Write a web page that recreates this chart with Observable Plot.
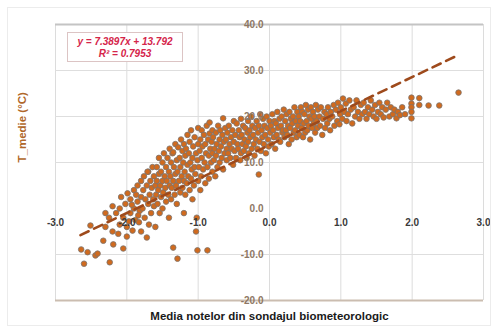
<!DOCTYPE html>
<html>
<head>
<meta charset="utf-8">
<script src="https://cdn.jsdelivr.net/npm/d3@7"></script>
<script src="https://cdn.jsdelivr.net/npm/@observablehq/plot@0.6"></script>
<style>
  html, body { margin: 0; padding: 0; background: #fff; }
  #wrap { position: relative; width: 498px; height: 333px; font-family: "Liberation Sans", Arial, sans-serif; }
  #border { position: absolute; left: 7px; top: 7px; width: 484px; height: 319px; border: 1px solid #ececec; box-sizing: border-box; }
  #eq { position: absolute; left: 67px; top: 32px; width: 116px; height: 30px; border: 1px solid #dcc4c4; box-sizing: border-box;
        color: #d5254a; font: italic bold 10px "Liberation Sans", Arial, sans-serif; text-align: center; line-height: 12px; padding-top: 3px; background: #fff; }
</style>
</head>
<body>
<div id="wrap"><div id="border"></div><div id="chart"></div><div id="eq"></div></div>
<script>
// Media notelor din sondajul biometeorologic (x) and T_medie (°C) (y)
const mediaNote = [
  -2.64,-2.60,-2.55,-2.44,-2.41,-2.33,-2.51,
  -2.24,-2.19,-2.30,-2.25,-2.20,-2.15,-2.10,-2.10,-2.05,-2.05,-2.00,-2.02,-2.20,-2.12,-2.30,-2.08,-2.00,
  -1.99,-1.95,-1.95,-1.92,-1.90,-1.90,-1.88,-1.85,-1.85,-1.83,-1.82,-1.80,-1.80,-1.80,-1.97,-1.93,-1.87,-1.84,
  -1.78,-1.77,-1.76,-1.75,-1.74,-1.72,-1.72,-1.70,-1.70,-1.69,-1.68,-1.67,-1.66,-1.65,-1.64,-1.63,-1.62,-1.62,-1.60,-1.60,-1.71,
  -1.59,-1.58,-1.58,-1.57,-1.56,-1.55,-1.55,-1.54,-1.53,-1.52,-1.52,-1.50,-1.50,-1.50,-1.49,-1.48,-1.47,-1.46,-1.45,-1.45,-1.44,-1.43,-1.42,-1.41,-1.40,-1.40,-1.41,
  -1.39,-1.38,-1.38,-1.37,-1.36,-1.35,-1.35,-1.35,-1.34,-1.33,-1.32,-1.32,-1.31,-1.30,-1.30,-1.29,-1.29,-1.28,-1.27,-1.26,-1.25,-1.25,-1.24,-1.23,-1.22,-1.22,-1.21,-1.20,-1.20,-1.20,
  -1.19,-1.18,-1.18,-1.17,-1.16,-1.15,-1.15,-1.14,-1.13,-1.12,-1.12,-1.11,-1.10,-1.10,-1.09,-1.08,-1.08,-1.07,-1.06,-1.05,-1.05,-1.04,-1.03,-1.02,-1.01,-1.01,-1.00,-1.00,-1.00,-1.03,
  -0.99,-0.98,-0.97,-0.97,-0.96,-0.95,-0.95,-0.94,-0.93,-0.92,-0.91,-0.90,-0.90,-0.89,-0.88,-0.87,-0.87,-0.86,-0.85,-0.85,-0.84,-0.84,-0.83,-0.82,-0.81,-0.80,-0.80,-0.80,
  -0.79,-0.78,-0.77,-0.76,-0.75,-0.75,-0.74,-0.73,-0.72,-0.71,-0.70,-0.70,-0.69,-0.68,-0.67,-0.66,-0.65,-0.65,-0.64,-0.63,-0.62,-0.61,-0.60,-0.60,
  -0.59,-0.58,-0.57,-0.56,-0.55,-0.54,-0.53,-0.52,-0.51,-0.50,-0.50,-0.49,-0.48,-0.47,-0.46,-0.45,-0.44,-0.43,-0.42,-0.41,-0.40,-0.40,
  -0.39,-0.38,-0.37,-0.36,-0.35,-0.34,-0.33,-0.32,-0.31,-0.30,-0.30,-0.29,-0.28,-0.27,-0.26,-0.25,-0.24,-0.23,-0.22,-0.21,-0.20,
  -0.19,-0.18,-0.17,-0.16,-0.15,-0.15,-0.14,-0.13,-0.12,-0.11,-0.10,-0.09,-0.08,-0.07,-0.06,-0.05,-0.04,-0.03,-0.02,-0.01,0.00,
  0.01,0.02,0.03,0.04,0.05,0.06,0.07,0.08,0.09,0.10,0.11,0.12,0.13,0.14,0.15,0.16,0.17,0.18,0.19,0.20,
  0.21,0.22,0.23,0.24,0.25,0.26,0.27,0.28,0.29,0.30,0.31,0.32,0.33,0.34,0.35,0.36,0.37,0.38,0.39,0.40,
  0.41,0.42,0.43,0.44,0.45,0.46,0.47,0.48,0.49,0.50,0.51,0.52,0.53,0.54,0.55,0.56,0.57,0.58,0.59,0.60,
  0.61,0.62,0.63,0.64,0.65,0.66,0.67,0.68,0.70,0.71,0.72,0.74,0.75,0.77,0.78,0.80,
  0.81,0.82,0.84,0.85,0.86,0.88,0.90,0.91,0.93,0.95,0.96,0.98,0.99,1.00,
  1.02,1.03,1.05,1.07,1.08,1.10,1.12,1.14,1.16,1.18,1.20,1.22,1.24,1.26,1.28,1.30,
  1.32,1.34,1.36,1.38,1.40,1.42,1.44,1.46,1.48,1.50,1.52,1.54,1.56,1.58,
  1.60,1.63,1.65,1.68,1.70,1.73,1.75,1.78,1.80,1.83,1.86,1.90,
  1.99,1.99,1.99,1.99,1.99,2.10,2.10,
  2.23,2.38,2.65
];
const tMedie = [
  -8.9,-12.0,-9.5,-10.2,-9.8,-7.0,-3.7,
  -11.7,-7.8,-4.0,-2.0,-5.0,-1.0,-3.5,0.0,-8.7,-2.0,-6.1,1.0,0.5,-5.5,-1.0,2.5,-4.0,
  3.3,-1.0,2.0,-4.8,0.0,4.0,-2.5,1.5,5.0,-3.0,-0.5,2.5,6.0,-5.0,-2.8,0.8,3.0,-1.5,
  0.0,4.0,7.0,-2.0,2.0,-6.3,5.0,1.0,8.0,-3.5,3.0,6.0,-1.0,4.5,9.0,2.0,0.5,7.0,5.0,-4.0,8.0,
  3.0,6.0,9.0,1.0,4.0,7.5,11.0,-1.0,5.0,2.5,8.0,0.0,6.0,10.0,3.5,12.0,7.0,4.5,9.0,1.5,6.0,11.0,3.0,8.0,5.0,13.0,-2.0,
  7.0,10.0,2.0,4.5,12.0,12.2,-8.5,6.0,9.0,3.0,14.0,7.5,5.0,10.5,1.0,-10.9,8.0,13.3,6.0,11.0,3.5,9.0,15.0,7.0,12.5,4.5,10.0,6.0,14.0,-1.0,
  8.0,11.5,3.0,13.0,5.5,9.5,16.0,7.0,12.0,4.0,14.5,10.0,6.5,17.0,8.5,11.0,2.0,13.5,5.0,9.0,15.5,7.5,12.0,-2.0,-9.1,10.5,14.0,6.0,17.5,-5.0,
  9.0,12.5,15.0,4.0,7.0,11.0,17.0,13.5,8.5,16.0,10.0,5.5,14.0,12.0,18.0,-9.1,9.0,15.0,11.5,6.5,18.7,16.3,13.0,10.0,14.5,8.0,12.0,17.0,
  15.5,10.5,13.0,7.0,16.5,11.5,14.0,9.0,18.0,12.5,15.0,10.0,17.0,13.5,11.0,16.0,19.6,8.5,14.5,12.0,17.5,15.0,10.5,13.0,
  16.5,12.0,18.0,14.0,11.0,15.5,13.0,17.0,9.5,14.5,19.0,12.5,16.0,11.0,18.5,14.0,13.0,17.0,15.5,10.5,12.0,19.5,
  16.0,14.0,18.0,12.5,15.0,17.5,13.5,11.0,16.5,19.0,14.5,12.0,17.0,15.5,20.0,13.0,18.0,16.0,14.0,11.5,17.5,
  15.0,19.0,13.0,16.5,7.4,18.0,14.5,20.5,12.5,17.0,15.5,19.5,14.0,18.0,16.0,12.0,20.0,17.5,15.0,13.5,19.0,
  16.5,18.0,14.0,20.5,17.0,15.5,19.0,13.0,18.5,16.0,21.0,17.5,15.0,19.5,14.5,18.0,20.0,16.5,17.0,21.5,
  15.5,19.0,17.0,20.5,16.0,18.0,14.0,21.0,17.5,19.5,15.0,18.5,20.0,16.5,22.0,17.0,19.0,15.5,21.0,18.0,
  20.0,16.0,19.0,22.0,17.5,21.0,15.5,18.5,20.5,16.5,22.5,19.0,17.0,21.5,18.0,20.0,15.0,22.0,19.5,17.5,
  21.0,18.5,20.0,16.5,22.5,19.0,17.5,21.5,20.0,18.0,22.0,16.0,19.5,21.0,17.5,20.5,
  18.5,22.0,19.5,17.0,21.0,20.0,22.5,18.0,21.5,19.0,23.0,18.3,20.5,22.0,
  19.5,23.9,21.0,22.8,19.0,20.5,23.5,21.5,18.5,22.0,20.0,23.5,21.0,19.5,22.5,20.5,
  23.0,21.0,19.5,22.0,20.5,23.5,21.5,20.0,22.5,19.5,21.0,23.0,20.5,22.0,
  19.8,21.5,23.0,20.0,22.0,20.5,21.5,19.6,21.0,20.3,22.0,20.5,
  24.1,22.8,22.0,21.0,19.6,24.0,22.5,
  22.4,22.4,25.2
];
// Trend line from the chart's equation
const trendCoef = [7.3897, 13.792];
const trendRange = [-2.65, 2.6];
const equationText = ["y = 7.3897x + 13.792", "R² = 0.7953"];
const xTicks = [-3, -2, -1, 0, 1, 2, 3];
const yTicks = [-20, -10, 0, 10, 20, 30, 40];
const yGrid = [-10, 10, 20, 30];
const xLabel = "Media notelor din sondajul biometeorologic";
const yLabel = "T_medie (°C)";

const points = mediaNote.map((x, i) => ({x, y: tMedie[i]}));
const trend = trendRange.map(x => ({x, y: trendCoef[0] * x + trendCoef[1]}));
const fmt = v => v.toFixed(1);
const yTickRows = yTicks.map(v => ({v, label: fmt(v)}));
const xTickRows = xTicks.map(v => ({v, label: fmt(v)}));

const chart = Plot.plot({
  width: 498,
  height: 333,
  marginLeft: 55,
  marginRight: 15,
  marginTop: 24,
  marginBottom: 33,
  x: {type: "linear", domain: [-3, 3], axis: null},
  y: {type: "linear", domain: [-20, 40], axis: null},
  style: {fontFamily: "'Liberation Sans', Arial, sans-serif", background: "transparent"},
  marks: [
    Plot.ruleX(xTicks, {x: d => d, stroke: "#dcdcdc", strokeWidth: 1}),
    Plot.ruleY(yGrid, {y: d => d, stroke: "#dedede", strokeWidth: 1}),
    Plot.ruleY([40], {y: d => d, stroke: "#c4c4c4", strokeWidth: 2.2}),
    Plot.ruleY([-20], {y: d => d, stroke: "#cbbdb0", strokeWidth: 2.2}),
    Plot.dot(points, {x: "x", y: "y", r: 2.8, fill: "#d06a1e", stroke: "#7a7470", strokeWidth: 0.8}),
    Plot.line(trend, {x: "x", y: "y", stroke: "#9e4a1c", strokeWidth: 2.6, strokeDasharray: "9,6"}),
    Plot.text(yTickRows, {x: () => 0, y: "v", text: "label", textAnchor: "end", dx: -6, fill: "#8e7763", fontSize: 10, fontWeight: "bold"}),
    Plot.text(xTickRows, {x: "v", y: () => 0, text: "label", dy: 14, fill: "#3a3a3a", fontSize: 10, fontWeight: "bold"}),
    Plot.text([xLabel], {frameAnchor: "bottom", dy: 19, fill: "#1a1a1a", fontSize: 11.5, fontWeight: "bold"}),
    Plot.text([yLabel], {frameAnchor: "left", dx: -33, rotate: -90, fill: "#b0672a", fontSize: 11.5, fontWeight: "bold"})
  ]
});
document.getElementById("chart").appendChild(chart);
document.getElementById("eq").innerHTML = equationText.join("<br>");
</script>
</body>
</html>
